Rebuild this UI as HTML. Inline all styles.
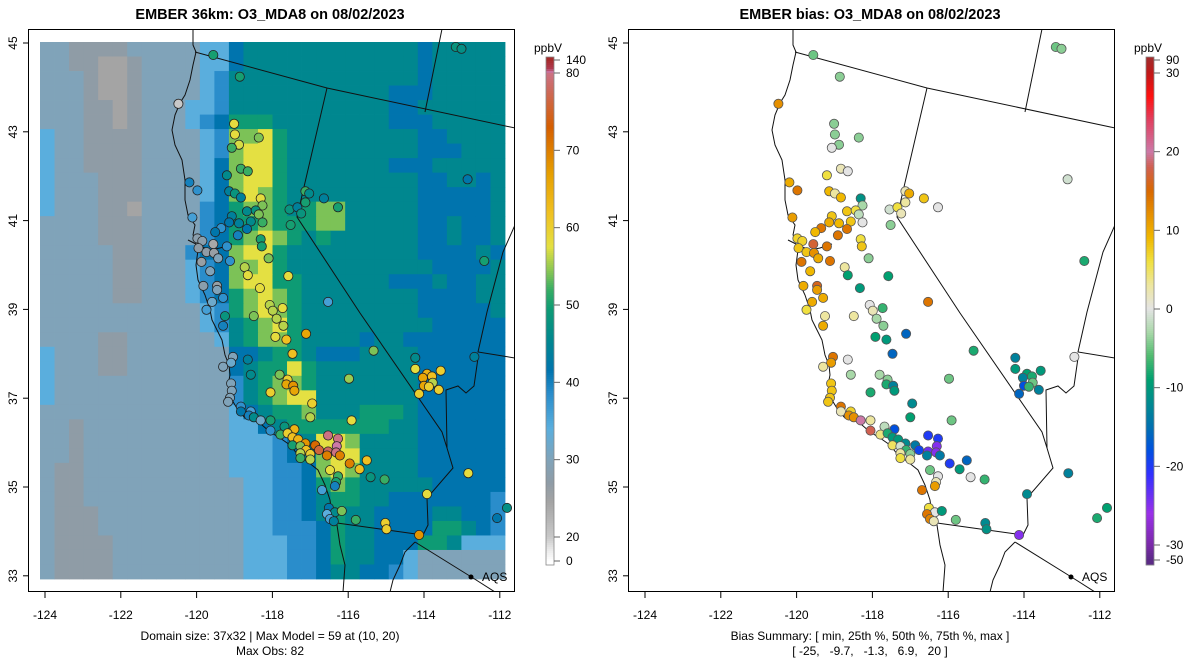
<!DOCTYPE html>
<html><head><meta charset="utf-8"><title>EMBER O3_MDA8</title>
<style>html,body{margin:0;padding:0;background:#fff}svg{display:block;font-family:"Liberation Sans",Arial,sans-serif}</style>
</head><body>
<svg id="chart" width="1200" height="672" viewBox="0 0 1200 672" xmlns="http://www.w3.org/2000/svg">
<text x="270" y="19" text-anchor="middle" font-size="14.5" font-weight="bold">EMBER 36km: O3_MDA8 on 08/02/2023</text>
<text x="870" y="19" text-anchor="middle" font-size="14.5" font-weight="bold">EMBER bias: O3_MDA8 on 08/02/2023</text>
<text x="270" y="640" text-anchor="middle" font-size="12">Domain size: 37x32 | Max Model = 59 at (10, 20)</text>
<text x="270" y="655" text-anchor="middle" font-size="12">Max Obs: 82</text>
<text x="870" y="640" text-anchor="middle" font-size="12">Bias Summary: [ min, 25th %, 50th %, 75th %, max ]</text>
<text x="870" y="655" text-anchor="middle" font-size="12" xml:space="preserve">[ -25,   -9.7,   -1.3,   6.9,   20 ]</text>
<g id="left"></g>
<g id="right"></g>
</svg>
<script>
// ---- data ----
const gridRows = [
"22111122222"+"33"+"5666666666666566666",
"22110012222"+"33"+"5666666666666566666",
"22210012222"+"34"+"6666666666666566666",
"22210012222"+"34"+"6666666666655566666",
"22211012223"+"34"+"6666666666655666666",
"22211012223"+"45"+"7776666666655566666",
"32211112222"+"34"+"8897666666666556666",
"32211112222"+"34"+"8997666666666555666",
"32211112222"+"35"+"8997666666655566666",
"32221112222"+"35"+"8997666666666556656",
"32221112222"+"35"+"8987666666666555556",
"32221102222"+"45"+"7887678866666555556",
"22221112222"+"45"+"7787778866666556556",
"22221112222"+"45"+"7898767666666556556",
"22222112224"+"55"+"8997666666666555565",
"22222112223"+"45"+"8897666666666655556",
"22222112223"+"45"+"8997766666655565566",
"22222112223"+"45"+"7898766666666555566",
"22222222222"+"34"+"7898766666666555556",
"22222222222"+"34"+"6789766666666655555",
"22221122222"+"23"+"6788766665665555555",
"32221122222"+"22"+"5567765556666555555",
"32221122222"+"22"+"5677976666666555555",
"32222222222"+"22"+"4678876666666555555",
"32222222222"+"22"+"4678996666666555555",
"22222222222"+"22"+"3567786667776555555",
"22122222222"+"22"+"3356777777766555555",
"22122222222"+"22"+"3334569986666555555",
"22122222222"+"22"+"3334568996666555555",
"21122222222"+"22"+"3334458986666555555",
"21122222222"+"22"+"2334457876666655555",
"21122222222"+"22"+"2334456776655555554",
"21112222222"+"22"+"2334456766555566554",
"21112222222"+"22"+"2334445766555577654",
"21111222222"+"22"+"2333445766555776333",
"21111222222"+"22"+"2333445766553222222",
"21111222222"+"22"+"2333445665543222222"
];
const digitValues = [24.5, 27, 30, 34, 38.5, 41.5, 45.5, 49.5, 54, 57.5];
const lons = [-120.48,-119.56,-118.86,-113.16,-113.01,-112.85,-112.41,-112.67,-112.83,-112.07,-111.81,-114.13,-119.01,-118.99,-118.88,-119.07,-118.36,-118.83,-118.65,-119.20,-120.19,-119.98,-119.14,-118.99,-118.83,-118.31,-118.26,-120.11,-119.07,-118.67,-118.44,-118.36,-119.14,-118.88,-118.57,-118.26,-119.35,-118.67,-119.51,-118.91,-119.98,-119.85,-119.56,-119.20,-119.95,-119.74,-119.54,-119.43,-119.87,-119.12,-119.64,-118.31,-118.28,-118.10,-118.73,-118.65,-117.58,-119.82,-119.46,-119.46,-119.30,-119.59,-119.74,-118.33,-119.25,-118.49,-118.07,-117.99,-117.73,-117.89,-117.71,-119.30,-117.52,-117.55,-117.34,-117.24,-117.13,-117.03,-117.13,-116.64,-116.27,-116.53,-117.92,-117.63,-117.11,-117.47,-119.04,-119.09,-119.30,-118.65,-118.57,-117.81,-117.60,-117.63,-117.45,-117.42,-118.05,-119.09,-119.07,-119.12,-119.17,-116.95,-117.00,-115.98,-115.33,-115.91,-118.83,-118.83,-118.57,-118.62,-118.49,-118.31,-118.05,-118.05,-117.68,-117.42,-117.79,-117.60,-117.47,-117.32,-117.13,-117.47,-117.26,-117.11,-116.87,-116.77,-117.26,-117.00,-117.26,-117.00,-116.53,-116.27,-116.30,-116.53,-116.32,-116.56,-116.22,-115.96,-115.51,-115.70,-116.48,-116.27,-116.32,-116.35,-115.41,-115.04,-116.69,-116.51,-116.35,-116.17,-116.56,-116.48,-116.38,-115.80,-115.02,-114.99,-114.23,-114.23,-113.56,-113.92,-113.79,-114.03,-113.77,-114.00,-113.87,-113.61,-114.13,-113.92];
const lats = [43.63,44.73,44.24,44.91,44.87,41.93,40.09,37.93,35.31,34.30,34.53,33.92,43.18,42.94,42.71,42.64,42.87,42.17,42.11,42.02,41.86,41.68,41.66,41.61,41.52,41.50,41.34,41.07,41.10,41.21,41.23,41.14,40.96,40.94,40.98,40.96,40.83,40.81,40.74,40.67,40.60,40.54,40.47,40.42,40.38,40.29,40.27,40.15,40.07,40.09,39.86,40.58,40.42,40.15,39.95,39.77,39.75,39.53,39.53,39.44,39.26,39.17,38.99,39.48,38.85,38.85,39.10,38.97,39.03,38.79,38.63,38.63,40.90,41.25,41.30,41.16,41.66,41.61,41.41,41.50,41.30,39.17,38.38,38.32,38.45,38.00,37.93,37.80,37.71,37.87,37.53,37.53,37.42,37.31,37.28,37.17,37.13,37.33,37.17,37.01,36.92,36.88,36.57,37.44,38.07,36.50,36.81,36.70,36.70,36.61,36.57,36.50,36.50,36.27,36.36,36.30,36.18,36.21,36.12,36.07,35.98,35.94,35.92,35.83,35.94,35.83,35.76,35.74,35.65,35.62,36.16,36.09,35.92,35.80,35.78,35.71,35.71,35.53,35.60,35.40,35.38,35.24,35.11,35.02,35.22,35.17,34.93,34.53,34.43,34.46,34.39,34.28,34.23,34.26,34.19,34.05,37.91,37.66,37.62,37.55,37.49,37.46,37.35,37.28,37.26,37.19,37.10,34.84];
const obsValues = [20,50,50,48,47,42,50,44,58,42,47,68,58,58,57,52,54,52,52,46,40,38,44,48,44,58,54,36,44,46,48,54,42,44,46,52,38,42,42,40,28,28,24,38,27,27,26,30,26,38,30,50,50,54,56,58,58,28,26,30,38,32,36,58,48,54,56,56,58,56,56,40,50,48,44,48,52,46,50,44,50,36,58,62,66,62,30,32,30,44,46,54,60,66,68,66,60,30,30,30,30,60,56,55,54,58,38,42,36,40,46,32,50,38,48,64,52,60,62,64,68,50,54,62,72,76,56,60,52,56,80,80,82,78,80,70,70,70,62,62,58,52,50,40,48,52,36,42,46,54,34,36,44,52,60,60,46,58,60,64,62,66,56,66,60,60,60,58];
const biasValues = [12,-5,-4,-5,-4,-1,-8,0,-13,-8,-9,-25,-4,-4,-4,0,-4,2,0,6,10,14,9,3,9,-11,-3,11,8,8,6,-2,10,9,8,0,14,14,9,14,7,7,17,14,8,8,12,10,14,14,9,6,8,-4,3,-9,-9,10,16,11,10,10,6,-10,3,3,0,2,-7,-3,-4,10,-4,-1,6,2,2,10,3,8,0,14,-9,-10,-16,-16,14,11,3,0,-3,-3,-4,-8,-13,-10,-8,8,8,8,8,-12,-9,-5,-8,-5,14,2,7,12,12,20,3,18,-2,-18,4,-8,-10,-10,-12,5,-1,-7,-14,-19,3,-4,6,3,-20,-20,-25,-24,-25,-13,-14,-20,-16,-10,-5,0,2,11,0,-7,14,6,0,-10,14,13,2,-5,-12,-11,-13,-10,-10,-9,-8,-13,-5,-18,-7,-13,-16,-12];
const obsTicks = [0,20,30,40,50,60,70,80,140];
const biasTicks = [-50,-30,-20,-10,0,10,20,30,90];
const lonTicks = [-124,-122,-120,-118,-116,-114,-112];
const latTicks = [45,43,41,39,37,35,33];

// ---- scales ----
const NS='http://www.w3.org/2000/svg';
function mk(tag, parent, attrs){const e=document.createElementNS(NS,tag);for(const k in attrs)e.setAttribute(k,attrs[k]);parent.appendChild(e);return e;}
const LON_PX=37.9, LAT_PX=44.4;
function xOf(lon, off){return off+45+(lon+124)*LON_PX;}
function yOf(lat){return 43+(45-lat)*LAT_PX;}
function hex(h){return [parseInt(h.substr(1,2),16),parseInt(h.substr(3,2),16),parseInt(h.substr(5,2),16)];}
function interp(stops,v){
  if(v<=stops[0][0])return stops[0][1];
  for(let i=1;i<stops.length;i++){if(v<=stops[i][0]){const a=stops[i-1],b=stops[i];const t=(v-a[0])/(b[0]-a[0]);const c1=hex(a[1]),c2=hex(b[1]);return 'rgb('+c1.map((c,j)=>Math.round(c+(c2[j]-c)*t)).join(',')+')';}}
  return stops[stops.length-1][1];
}
const obsStops=[[0,'#ffffff'],[10,'#e8e8e8'],[20,'#c8c8c8'],[24.5,'#a4a4a4'],[27,'#8f9ca6'],[30,'#80a3b9'],[34,'#5aaedd'],[38.5,'#2a8dcb'],[41.5,'#0074ae'],[45.5,'#00878f'],[49.5,'#0e9b74'],[52,'#38ad64'],[54,'#7cc257'],[57.5,'#e4e042'],[62,'#f0c020'],[67,'#e69f00'],[73,'#d55e00'],[78,'#cc6a60'],[82,'#cc79a7'],[100,'#b03a50'],[140,'#a52a2a']];
const biasStops=[[-50,'#5b2a86'],[-30,'#7a2aa8'],[-26,'#9a30e8'],[-21,'#3030ff'],[-18,'#0050e0'],[-15,'#0070b0'],[-12,'#008a90'],[-9,'#00a070'],[-6,'#50bb70'],[-3,'#a8d8a8'],[0,'#e4e4e4'],[3,'#ede6a0'],[6,'#f0e040'],[9,'#f0b800'],[12,'#e69000'],[15,'#d86800'],[18,'#d06050'],[20,'#cc79a7'],[24,'#e04060'],[27,'#ff1010'],[30,'#c01818'],[90,'#a52a2a']];
const obsColor=v=>interp(obsStops,v);
const biasColor=v=>interp(biasStops,v);
const obsBarPos=[[0,561],[20,537],[80,73],[140,60]];
const biasBarPos=[[-50,560],[-30,545],[30,73],[90,60]];
function barY(pos,v){for(let i=1;i<pos.length;i++){if(v<=pos[i][0]){const a=pos[i-1],b=pos[i];return a[1]+(b[1]-a[1])*(v-a[0])/(b[0]-a[0]);}}return pos[pos.length-1][1];}
function barInv(pos,y){for(let i=1;i<pos.length;i++){const a=pos[i-1],b=pos[i];if(y>=b[1]){return a[0]+(b[0]-a[0])*(y-a[1])/(b[1]-a[1]);}}return pos[pos.length-1][0];}

// geometry (pixel outline of coast & state lines within a panel)
const coast=[[193,29],[193,45],[196,52],[193,65],[190,80],[185,95],[180,103],[175,115],[172,130],[175,145],[182,160],[185,180],[185,200],[188,215],[195,225],[193,235],[200,240],[198,250],[196,265],[198,280],[205,295],[210,310],[212,320],[217,330],[222,340],[225,355],[229,365],[230,375],[228,385],[232,400],[238,410],[245,418],[255,420],[262,425],[270,432],[280,438],[290,445],[298,455],[308,462],[318,470],[325,485],[330,500],[332,515],[337,525],[340,545],[345,565],[343,592]];
const gulf=[[415,542],[405,552],[400,565],[393,580],[390,592]];
const bays=[[188,240],[200,246],[210,250],[220,248],[232,244]];
const stateLines=[
 [[195,52],[327,88],[515,128]],
 [[327,88],[297,217],[360,313],[442,432],[447,448],[453,468],[427,498],[428,525],[423,535]],
 [[337,523],[423,535]],
 [[415,542],[473,578],[495,592]],
 [[442,29],[425,112]],
 [[515,225],[503,252],[487,312],[478,352],[515,358]],
 [[478,358],[474,386],[466,393],[458,386],[446,390],[447,448]]
];

function drawPanel(g, off, isBias){
  const name=isBias?'bias':'model';
  if(!isBias){
    const gg=mk('g',g,{});
    
    
    const cw=465/32, ch=537/37;
    gridRows.forEach((s,r)=>{
      for(let c=0;c<32;c++){
        const v=digitValues[+s[Math.min(c,s.length-1)]];
        const cell=mk('rect',gg,{x:(40+c*cw).toFixed(2),y:(42+r*ch).toFixed(2),width:(cw+0.4).toFixed(2),height:(ch+0.4).toFixed(2),fill:obsColor(v)});
        
        
      }
    });
  }
  const fr=mk('rect',g,{x:off+28.5,y:29.5,width:486,height:562,fill:'none',stroke:'#000','stroke-width':1});
  
  
  const clip='clip'+off;
  const cp=mk('clipPath',g,{id:clip});mk('rect',cp,{x:off+29,y:30,width:485,height:561});
  const og=mk('g',g,{'clip-path':'url(#'+clip+')',fill:'none',stroke:'#111','stroke-width':1});
  
  
  [coast,gulf,bays].concat(stateLines).forEach(l=>{
    const p=mk('polyline',og,{points:l.map(q=>(q[0]+off)+','+q[1]).join(' ')});
    
    
  });
  const sg=mk('g',g,{'clip-path':'url(#'+clip+')'});
  
  
  for(let i=0;i<lons.length;i++){
    const fill=isBias?biasColor(biasValues[i]):obsColor(obsValues[i]);
    const c=mk('circle',sg,{cx:xOf(lons[i],off).toFixed(1),cy:yOf(lats[i]).toFixed(1),r:4.6,fill:fill,stroke:isBias?'#555':'#222','stroke-width':0.8});
    
    
  }
  const aq=mk('circle',g,{cx:off+471,cy:577,r:2.5,fill:'#000'});
  
  
  const at=mk('text',g,{x:off+482,y:581,'font-size':12});at.textContent='AQS';
  
  
  lonTicks.forEach(t=>{
    const x=xOf(t,off);
    const tk=mk('line',g,{x1:x,y1:592,x2:x,y2:598,stroke:'#000'});
    
    
    const tl=mk('text',g,{x:x,y:619,'text-anchor':'middle','font-size':12});tl.textContent=String(t);
    
    
  });
  latTicks.forEach(t=>{
    const y=yOf(t);
    const tk=mk('line',g,{x1:off+23,y1:y,x2:off+29,y2:y,stroke:'#000'});
    
    
    const tl=mk('text',g,{x:off+13,y:y,'text-anchor':'middle','font-size':12,transform:'rotate(-90 '+(off+13)+' '+y+')',dy:'0.35em'});tl.textContent=String(t);
    
    
  });
  const bx=off+546, pos=isBias?biasBarPos:obsBarPos, ticks=isBias?biasTicks:obsTicks;
  const cb=mk('g',g,{});
  
  
  for(let y=57;y<565;y+=2){
    const v=barInv(pos,Math.min(Math.max(y+1,60),561));
    const r=mk('rect',cb,{x:bx,y:y,width:8,height:2.3,fill:isBias?biasColor(v):obsColor(v)});
    
    
  }
  mk('rect',cb,{x:bx,y:57,width:8,height:508,fill:'none',stroke:'#888','stroke-width':0.8});
  ticks.forEach(t=>{
    const y=barY(pos,t);
    const tk=mk('line',cb,{x1:bx+8,y1:y,x2:bx+14,y2:y,stroke:'#666'});
    
    
    const tl=mk('text',cb,{x:bx+20,y:y+4,'font-size':12});tl.textContent=String(t);
    
    
  });
  const u=mk('text',cb,{x:bx+2,y:52,'text-anchor':'middle','font-size':12});u.textContent='ppbV';
  
  
}
drawPanel(document.getElementById('left'),0,false);
drawPanel(document.getElementById('right'),600,true);
</script>
</body></html>
